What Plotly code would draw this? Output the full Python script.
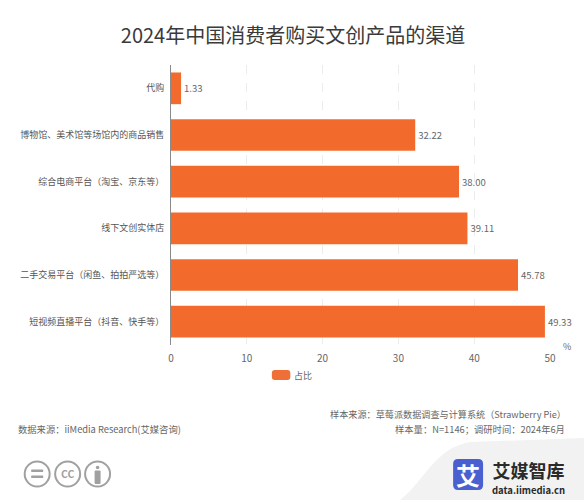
import plotly.graph_objects as go

# Data
channels = ['代购', '博物馆、美术馆等场馆内的商品销售', '综合电商平台（淘宝、京东等）',
            '线下文创实体店', '二手交易平台（闲鱼、拍拍严选等）', '短视频直播平台（抖音、快手等）']
shares = [1.33, 32.22, 38.00, 39.11, 45.78, 49.33]
share_labels = ['1.33', '32.22', '38.00', '39.11', '45.78', '49.33']
x_ticks = [0, 10, 20, 30, 40, 50]

W, H = 584, 500
FONT = 'Noto Sans CJK SC'
ORANGE = '#f26b2c'
GREY = '#666666'
ICON = '#a0a0a0'

# plot area in pixels
left, right, top, bottom = 170.5, 550, 65, 345


def px(x):
    return (x - left) / (right - left)


def py(y):
    return (bottom - y) / (bottom - top)


def text(x, y, s, size=9, color=GREY, anchor='left', angle=0, weight=None):
    fig.add_annotation(x=px(x), y=py(y), xref='paper', yref='paper', text=s, showarrow=False,
                       xanchor=anchor, yanchor='middle', textangle=angle,
                       font=dict(family=FONT, size=size, color=color, weight=weight))


def rect_path(x0, y0, x1, y1, r):
    return (f'M {px(x0 + r)} {py(y0)} L {px(x1 - r)} {py(y0)} Q {px(x1)} {py(y0)} {px(x1)} {py(y0 + r)} '
            f'L {px(x1)} {py(y1 - r)} Q {px(x1)} {py(y1)} {px(x1 - r)} {py(y1)} '
            f'L {px(x0 + r)} {py(y1)} Q {px(x0)} {py(y1)} {px(x0)} {py(y1 - r)} '
            f'L {px(x0)} {py(y0 + r)} Q {px(x0)} {py(y0)} {px(x0 + r)} {py(y0)} Z')


def add_path(path, fill, line=None, width=0):
    fig.add_shape(type='path', path=path, xref='paper', yref='paper', fillcolor=fill,
                  line=dict(color=line or fill, width=width), layer='below')


def add_circle(cx, cy, r, fill=None, width=2):
    fig.add_shape(type='circle', xref='paper', yref='paper', x0=px(cx - r), x1=px(cx + r),
                  y0=py(cy + r), y1=py(cy - r), line=dict(color=ICON, width=width), fillcolor=fill)


fig = go.Figure(go.Bar(x=shares, y=channels, orientation='h', marker_color=ORANGE, marker_line_width=0,
                       text=share_labels, textposition='outside', cliponaxis=False,
                       textfont=dict(family=FONT, size=9.5, color=GREY), width=0.68))

fig.update_layout(
    width=W, height=H, autosize=False, showlegend=False, paper_bgcolor='white', plot_bgcolor='white',
    margin=dict(l=left, r=W - right, t=top, b=H - bottom, pad=0),
    title=dict(text='2024年中国消费者购买文创产品的渠道', x=293 / W, xanchor='center', y=1 - 36 / H, yanchor='middle',
               font=dict(family=FONT, size=20, color='#3a3a3a')),
)
fig.update_xaxes(range=[0, 50], tickvals=x_ticks, showgrid=True, gridcolor='#ececec', griddash='dash', gridwidth=1,
                 zeroline=False, showline=False, ticks='outside', ticklen=4, tickcolor='rgba(0,0,0,0)',
                 tickfont=dict(family=FONT, size=10, color=GREY))
fig.update_yaxes(autorange='reversed', showline=True, linecolor='#8a8a8a', linewidth=1, ticks='', showgrid=False,
                 ticklabelstandoff=4, tickfont=dict(family=FONT, size=9, color='#555555'))

text(567, 346, '%', size=9, anchor='center')

# legend
add_path(rect_path(271.5, 370, 290, 380, 3), '#ee7038')
text(292, 375, '占比', size=9)

# footer text
text(568, 414, '样本来源：草莓派数据调查与计算系统（Strawberry Pie）', size=9.15, anchor='right')
text(567, 429, '样本量：N=1146；调研时间：2024年6月', size=9.3, anchor='right')
text(15, 429, '数据来源：iiMedia Research(艾媒咨询)', size=9.3)

# grey swoosh behind the logo
add_path(f'M {px(400)} {py(500)} C {px(425)} {py(480)} {px(435)} {py(448)} {px(470)} {py(442)} '
         f'L {px(584)} {py(438)} L {px(584)} {py(500)} Z', '#f2f2f2')

# licence icons
add_circle(36.5, 474, 12.5)
add_circle(67, 474, 12.5)
add_circle(97, 474, 12.5)
add_path(rect_path(30.5, 469.5, 42.5, 472, 0.5), ICON)
add_path(rect_path(30.5, 475.5, 42.5, 478, 0.5), ICON)
text(67, 473.5, 'CC', size=10.5, color=ICON, anchor='center', weight='bold')
add_circle(97, 467.5, 1.8, fill=ICON, width=0)
add_path(rect_path(94, 470.5, 100, 484, 1), ICON)

# logo, the two lines share one annotation so their boxes do not collide
add_path(rect_path(453, 459, 483, 490, 5), '#4a5fd0')
text(468, 474, '艾', size=24, color='white', anchor='center', weight='bold')
text(490, 477, '<span style="font-size:18px">艾媒智库</span><br>'
               '<span style="font-size:9.5px">data.iimedia.cn</span>',
     size=12, color='#2a2a2a', weight='bold')

# browser default body margin would push the chart 8px off
fig.write_html("out.html", config=dict(displayModeBar=False), post_script="document.body.style.margin='0';")
